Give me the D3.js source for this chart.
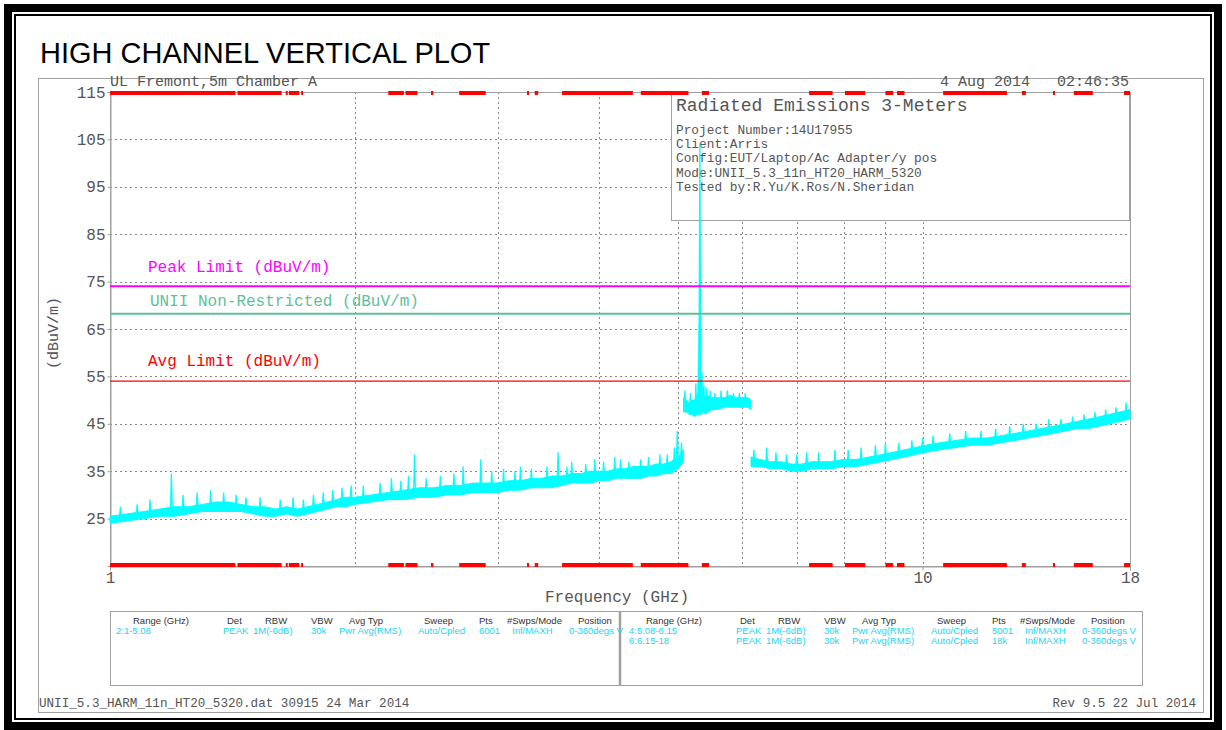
<!DOCTYPE html>
<html>
<head>
<meta charset="utf-8">
<script src="https://cdn.jsdelivr.net/npm/d3@7"></script>
<style>
body{margin:0;background:#fff;}
svg text{font-family:"Liberation Mono",monospace;white-space:pre;}
</style>
</head>
<body>
<div id="chart"></div>
<script>
// ---- data ----
const seg1Freq = [1.00,1.05,1.10,1.15,1.20,1.25,1.30,1.35,1.40,1.45,1.50,1.55,1.60,1.65,1.70,1.75,1.80,1.85,1.90,1.95,2.00,2.10,2.20,2.30,2.40,2.50,2.60,2.70,2.80,2.90,3.00,3.10,3.20,3.30,3.40,3.50,3.60,3.70,3.80,3.90,4.00,4.10,4.20,4.30,4.40,4.50,4.60,4.70,4.80,4.90,5.00,5.08];
const seg1Lo = [24,24.5,25,25.5,25.5,26,26.5,26.5,26.5,26.5,26,25.5,25.5,26,25.5,26,26.5,27,27.5,27.5,28,28.5,29,29,29.5,29.5,30,30,30.5,30.5,30.5,31,31,31.5,31.5,31.5,32,32.5,32.5,32.5,33,33,33.5,33.5,33.5,33.5,34,34,34.5,34.5,35.5,37];
const seg1Hi = [25.5,26,26.5,27,27.5,27.5,28,28.5,28.5,28,27.5,27.5,27,27.5,27,27.5,28,28.5,29,29.5,29.5,30,30.5,31,31.5,31.5,32,32,32.5,32.5,32.5,33,33,33.5,33.5,34,34,34.5,34.5,35,35,35,35.5,35.5,36,36,36,36.5,36.5,37,38,39.5];

const seg2Freq = [5.08,5.12,5.16,5.20,5.24,5.28,5.30,5.34,5.36,5.40,5.45,5.50,5.60,5.70,5.80,5.90,6.00,6.10,6.15];
const seg2Lo = [47.5,47.5,47,47,46.5,47,47,47,47.5,47,47.5,48,48,48.5,48.5,48.5,48.5,48.5,48];
const seg2Hi = [50.5,50,49.5,50,50,51,52,52,51,50.5,51,50.5,50.5,50.5,51,50.5,50.5,50.5,50];

const seg3Freq = [6.15,6.3,6.5,6.7,6.9,7.1,7.3,7.5,7.7,8.0,8.3,8.6,8.9,9.2,9.5,9.8,10.1,10.5,11.0,11.5,12.0,12.5,13.0,13.5,14.0,14.5,15.0,15.5,16.0,16.5,17.0,17.5,18.0];
const seg3Lo = [36,36,35.5,35.5,35,35,35.5,35.5,35.5,36,36,36.5,37,37.5,38,38.5,39,39.5,40,40.5,40.5,41,41.5,42,42.5,43,43.5,44,44,44.5,45,45.5,46];
const seg3Hi = [38,37.5,37,37,36.5,36.5,37,37,37,37.5,37.5,38,38.5,39,39.5,40,40.5,41,41.5,42,42,42.5,43,43.5,44,44.5,45,45.5,46,46.5,47,47.5,48];

// narrow peaks sticking out of the noise floor
const spikeFreq = [1.03,1.08,1.12,1.19,1.23,1.28,1.33,1.38,1.43,1.47,1.53,1.62,1.68,1.73,1.78,1.83,1.88,1.93,1.98,2.05,2.15,2.22,2.28,2.33,2.37,2.45,2.55,2.65,2.72,2.86,2.95,3.05,3.15,3.2,3.3,3.45,3.56,3.65,3.7,3.85,3.95,4.05,4.18,4.25,4.35,4.5,4.6,4.75,4.85,4.95,4.99,5.05,
  5.10,5.18,5.26,5.30,5.31,5.32,5.33,5.35,5.38,5.42,5.48,5.55,5.65,5.75,5.85,5.95,6.05,
  6.2,6.43,6.6,6.8,7.0,7.2,7.45,7.8,8.1,8.4,8.75,9.0,9.35,9.7,10.0,10.3,10.8,11.3,11.8,12.3,12.8,13.3,13.8,14.3,14.8,15.3,15.8,16.3,16.8,17.3,17.8];
const spikePeak = [27.5,28,29,34.5,30,30.5,31,30.5,30,29.5,29.5,29,29.5,29,30,30.5,31,31.5,32,32,32.5,33.5,33,34,38.5,33.5,34,34.5,36,37.5,35,35.5,35,36,35.5,36,39,36,37,36.5,37.5,37,38,37.5,37,37.5,38,38.5,38.5,40,43.5,41,
  52,51.5,53.5,57,66,104.2,63,56,53,52.5,52,51.5,52,52,51.5,51.5,51.5,
  39.5,40,39,38.5,38.5,39,39,39.5,39.5,40,40.5,41,41,41.5,42,42.5,43,43.5,43.5,44,44.5,45,45,46,46,46.5,47,47.5,48,48.5,49.5];

// limits (dBuV/m)
const limitNames = ["Peak Limit (dBuV/m)", "UNII Non-Restricted (dBuV/m)", "Avg Limit (dBuV/m)"];
const limitValues = [74, 68.2, 54];

// restricted bands (GHz) marked in red on top and bottom edges
const bandStart = [1.0,1.435,1.6455,1.66,1.7188,2.2,2.31,2.4835,2.69,3.26,3.332,3.3458,3.6,4.5,5.35,7.25,8.025,9.0,9.3,10.6,13.25,14.47,15.35,17.7];
const bandEnd   = [1.427,1.6265,1.6465,1.71,1.7222,2.3,2.39,2.5,2.9,3.267,3.339,3.358,4.4,5.15,5.46,7.75,8.5,9.2,9.5,12.7,13.4,14.5,16.2,18.0];

const yTickValues = [25,35,45,55,65,75,85,95,105,115];
const xGridValues = [2,3,4,5,6,7,8,9,10];
const xTickValues = [1,10,18];

const infoTitle = "Radiated Emissions 3-Meters";
const infoLines = ["Project Number:14U17955","Client:Arris","Config:EUT/Laptop/Ac Adapter/y pos","Mode:UNII_5.3_11n_HT20_HARM_5320","Tested by:R.Yu/K.Ros/N.Sheridan"];

const tableHeaders = ["Range (GHz)","Det","RBW","VBW","Avg Typ","Sweep","Pts","#Swps/Mode","Position"];
const tableLeftRows = [["2:1-5.08","PEAK","1M(-6dB)","30k","Pwr Avg(RMS)","Auto/Cpled","6001","Inf/MAXH","0-360degs V"]];
const tableRightRows = [["4:5.08-6.15","PEAK","1M(-6dB)","30k","Pwr Avg(RMS)","Auto/Cpled","5001","Inf/MAXH","0-360degs V"],
                        ["6:6.15-18","PEAK","1M(-6dB)","30k","Pwr Avg(RMS)","Auto/Cpled","18k","Inf/MAXH","0-360degs V"]];

// ---- drawing ----
const W = 1226, H = 730;
const gray = "#555", lineGray = "#a0a0a0";
const limitColors = ["#ff00ff", "#5fbf9a", "#ff0000"];
const limitLabelDy = [-14, -8, -15];

const x = d3.scaleLog().domain([1, 18]).range([110, 1130]);
const y = d3.scaleLinear().domain([15, 115]).range([566, 92]);

const svg = d3.select("#chart").append("svg")
  .attr("width", W).attr("height", H)
  .style("display", "block");

// black page border
svg.append("rect").attr("x", 8).attr("y", 8).attr("width", 1210).attr("height", 718)
  .attr("fill", "none").attr("stroke", "#000").attr("stroke-width", 8);
svg.append("rect").attr("x", 15).attr("y", 15).attr("width", 1196).attr("height", 704)
  .attr("fill", "none").attr("stroke", "#000").attr("stroke-width", 2);

// gray outer frame
svg.append("rect").attr("x", 38.5).attr("y", 78.5).attr("width", 1165).attr("height", 634)
  .attr("fill", "none").attr("stroke", lineGray).attr("stroke-width", 1);

svg.append("text").attr("x", 40).attr("y", 63)
  .style("font-family", "'Liberation Sans', Arial, sans-serif").style("font-size", "29px")
  .attr("fill", "#000").text("HIGH CHANNEL VERTICAL PLOT");

svg.append("text").attr("x", 110).attr("y", 86).style("font-size", "15px").attr("fill", gray)
  .text("UL Fremont,5m Chamber A");
svg.append("text").attr("x", 1129).attr("y", 86).attr("text-anchor", "end").style("font-size", "15px").attr("fill", gray)
  .text("4 Aug 2014   02:46:35");

// grid
const grid = svg.append("g").attr("stroke", "#888").attr("stroke-dasharray", "2,3").attr("stroke-width", 1);
grid.selectAll(".hg").data(yTickValues.slice(0, -1)).join("line")
  .attr("x1", 110).attr("x2", 1130)
  .attr("y1", d => Math.round(y(d)) + .5).attr("y2", d => Math.round(y(d)) + .5);
grid.selectAll(".vg").data(xGridValues).join("line")
  .attr("x1", d => Math.round(x(d)) + .5).attr("x2", d => Math.round(x(d)) + .5)
  .attr("y1", 92).attr("y2", 566);

// plot frame
svg.append("rect").attr("x", 110.5).attr("y", 92.5).attr("width", 1020).attr("height", 474)
  .attr("fill", "none").attr("stroke", lineGray);

// y axis
const yAxis = svg.append("g").attr("transform", "translate(110.5,0)")
  .call(d3.axisLeft(y).tickValues(yTickValues).tickSize(3).tickPadding(2).tickFormat(d3.format("d")));
yAxis.select(".domain").attr("stroke", lineGray);
yAxis.selectAll(".tick line").attr("stroke", lineGray);
yAxis.selectAll(".tick text").attr("fill", gray).style("font-size", "16px")
  .style("font-family", "'Liberation Mono', monospace");

// x axis
const xAxis = svg.append("g").attr("transform", "translate(0,566.5)")
  .call(d3.axisBottom(x).tickValues(xTickValues).tickSize(4).tickPadding(1).tickFormat(d => d));
xAxis.select(".domain").attr("stroke", lineGray);
xAxis.selectAll(".tick line").attr("stroke", lineGray);
xAxis.selectAll(".tick text").attr("fill", gray).style("font-size", "16px")
  .style("font-family", "'Liberation Mono', monospace");

svg.append("text").attr("x", 617).attr("y", 602).attr("text-anchor", "middle")
  .style("font-size", "16px").attr("fill", gray).text("Frequency (GHz)");
svg.append("text").attr("transform", "translate(58,333) rotate(-90)").attr("text-anchor", "middle")
  .style("font-size", "15px").attr("fill", gray).text("(dBuV/m)");

// info box
svg.append("rect").attr("x", 671.5).attr("y", 92.5).attr("width", 458).attr("height", 128)
  .attr("fill", "#fff").attr("stroke", lineGray);
svg.append("text").attr("x", 676).attr("y", 111).style("font-size", "18px").attr("fill", gray).text(infoTitle);
svg.append("g").selectAll("text").data(infoLines).join("text")
  .attr("x", 676).attr("y", (d, i) => 134 + i * 14.2)
  .style("font-size", "12.8px").attr("fill", gray).text(d => d);

// trace
const cyan = "#00ffff";
const segs = [
  seg1Freq.map((f, i) => ({f, lo: seg1Lo[i], hi: seg1Hi[i]})),
  seg2Freq.map((f, i) => ({f, lo: seg2Lo[i], hi: seg2Hi[i]})),
  seg3Freq.map((f, i) => ({f, lo: seg3Lo[i], hi: seg3Hi[i]}))
];
const band = d3.area().x(d => x(d.f)).y0(d => y(d.lo)).y1(d => y(d.hi));
const trace = svg.append("g");
trace.selectAll("path.band").data(segs).join("path")
  .attr("d", band).attr("fill", cyan).attr("stroke", cyan).attr("stroke-width", 1);

const allPts = segs.flat().sort((a, b) => a.f - b.f);
const bis = d3.bisector(d => d.f).center;
trace.selectAll("path.spike").data(spikeFreq.map((f, i) => ({f, p: spikePeak[i]}))).join("path")
  .attr("d", d => {
    const base = allPts[bis(allPts, d.f)].lo + 0.5;
    const px = x(d.f);
    return `M${px - 1},${y(base)}L${px},${y(d.p)}L${px + 1},${y(base)}`;
  })
  .attr("fill", "none").attr("stroke", cyan).attr("stroke-width", 1.3);

// limit lines
svg.append("g").selectAll("line").data(limitValues).join("line")
  .attr("x1", 110).attr("x2", 1130)
  .attr("y1", d => y(d)).attr("y2", d => y(d))
  .attr("stroke", (d, i) => limitColors[i]).attr("stroke-width", (d, i) => i === 2 ? 1.2 : 2);
svg.append("g").selectAll("text").data(limitNames).join("text")
  .attr("x", (d, i) => i === 1 ? 150 : 148)
  .attr("y", (d, i) => y(limitValues[i]) + limitLabelDy[i])
  .style("font-size", "16px").attr("fill", (d, i) => limitColors[i]).text(d => d);

// restricted bands
const bands = bandStart.map((s, i) => ({s, e: bandEnd[i]}));
[93, 565].forEach(yy => {
  svg.append("g").selectAll("line").data(bands).join("line")
    .attr("x1", d => x(d.s)).attr("x2", d => Math.max(x(d.e), x(d.s) + 2))
    .attr("y1", yy).attr("y2", yy)
    .attr("stroke", "#ff0000").attr("stroke-width", 4);
});

// settings table
svg.append("rect").attr("x", 110.5).attr("y", 611.5).attr("width", 1032).attr("height", 74)
  .attr("fill", "none").attr("stroke", lineGray);
svg.append("line").attr("x1", 620).attr("x2", 620).attr("y1", 611).attr("y2", 686)
  .attr("stroke", lineGray).attr("stroke-width", 2.5);

const colHeaderX = [133,227,265,311,349,424,479,507,578];
const colValX = [116,223,253,311,339,418,479,512,569];
const halfOffset = [0, 513];
const tbl = svg.append("g").style("font-size", "9.5px");
halfOffset.forEach((off, h) => {
  tbl.append("g").selectAll("text").data(tableHeaders).join("text")
    .attr("x", (d, i) => colHeaderX[i] + off).attr("y", 624)
    .style("font-family", "'Liberation Sans', Arial, sans-serif")
    .attr("fill", "#333").text(d => d);
  const rows = h === 0 ? tableLeftRows : tableRightRows;
  rows.forEach((row, r) => {
    tbl.append("g").selectAll("text").data(row).join("text")
      .attr("x", (d, i) => colValX[i] + off).attr("y", 634 + r * 9.5)
      .style("font-family", "'Liberation Sans', Arial, sans-serif")
      .attr("fill", "#22d4f4").text(d => d);
  });
});

// footer
svg.append("text").attr("x", 39).attr("y", 707).style("font-size", "12.6px").attr("fill", gray)
  .text("UNII_5.3_HARM_11n_HT20_5320.dat 30915 24 Mar 2014");
svg.append("text").attr("x", 1196).attr("y", 707).attr("text-anchor", "end").style("font-size", "12.6px").attr("fill", gray)
  .text("Rev 9.5 22 Jul 2014");
</script>
</body>
</html>
